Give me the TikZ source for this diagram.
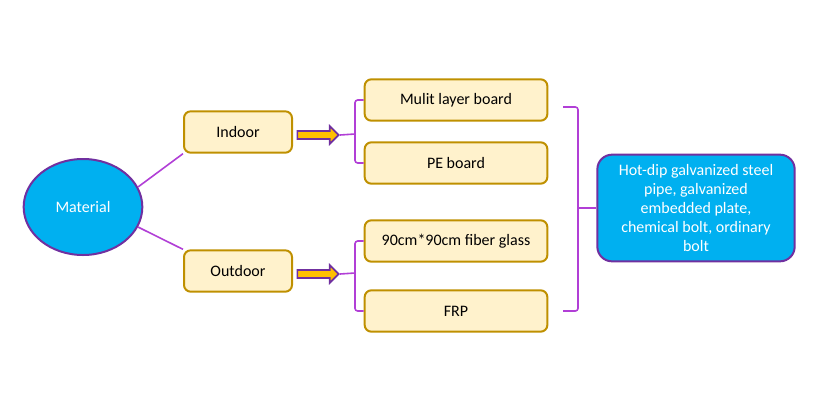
\documentclass[tikz,border=0pt]{standalone}
\usepackage{fontspec}
\setmainfont{Carlito}
\usetikzlibrary{shapes.geometric,shapes.arrows}
\definecolor{boxfill}{HTML}{FFF2CC}
\definecolor{boxline}{HTML}{BF9000}
\definecolor{skyblue}{HTML}{00B0F0}
\definecolor{darkpurple}{HTML}{7030A0}
\definecolor{linkpurple}{HTML}{B13FD6}
\definecolor{arrowfill}{HTML}{FFC000}
\begin{document}
\begin{tikzpicture}[x=0.75pt,y=-0.75pt,font=\fontsize{12pt}{14pt}\selectfont,
    box/.style={draw=boxline, fill=boxfill, line width=1.5pt, rounded corners=5pt, minimum height=31pt},
    smallbox/.style={box, minimum width=81pt},
    widebox/.style={box, minimum width=137pt},
    link/.style={draw=linkpurple, line width=1.2pt},
    fatarrow/.style={single arrow, draw=darkpurple, fill=arrowfill, line width=1.3pt,
        minimum height=31pt, inner sep=2.4pt, single arrow head extend=3.6pt}]
    \useasboundingbox (0,0) rectangle (837,411);

    \node[ellipse, draw=darkpurple, fill=skyblue, line width=1.5pt, text=white,
        minimum width=89pt, minimum height=72pt] (mat) at (83,207) {Material};

    \node[smallbox] (indoor) at (238,132) {Indoor};
    \node[smallbox] (outdoor) at (238,271) {Outdoor};

    \draw[link] (mat.20) -- (indoor.south west);
    \draw[link] (mat.-20) -- (outdoor.north west);

    \node[widebox] (multi) at (456,100) {Mulit layer board};
    \node[widebox] (pe) at (456,163) {PE board};
    \node[widebox] (glass) at (456,241) {90cm*90cm fiber glass};
    \node[widebox] (frp) at (456,311) {FRP};

    \node[fatarrow] (arrin) at (316,135) {};
    \node[fatarrow] (arrout) at (316,274) {};

%    brackets
    \coordinate (bin) at (355,134);
    \coordinate (bout) at (355,273);
    \draw[link] (arrin.tip) -- (bin);
    \draw[link, rounded corners=2pt] (multi.west) -| (bin) |- (pe.west);
    \draw[link] (arrout.tip) -- (bout);
    \draw[link, rounded corners=2pt] (glass.west) -| (bout) |- (frp.west);

    \node[draw=darkpurple, fill=skyblue, line width=1.5pt, rounded corners=11pt, text=white,
        minimum width=148pt, minimum height=80pt, align=center,
        font=\fontsize{12pt}{14.3pt}\selectfont] (hw) at (696,208)
        {Hot-dip galvanized steel\\ pipe, galvanized\\ embedded plate,\\ chemical bolt, ordinary\\ bolt};

    \coordinate (btop) at (563,107);
    \coordinate (bbot) at (563,311);
    \coordinate (bmid) at (578,208);
    \draw[link, rounded corners=2pt] (btop) -| (bmid) |- (bbot);
    \draw[link] (bmid) -- (hw.west);
\end{tikzpicture}
\end{document}
